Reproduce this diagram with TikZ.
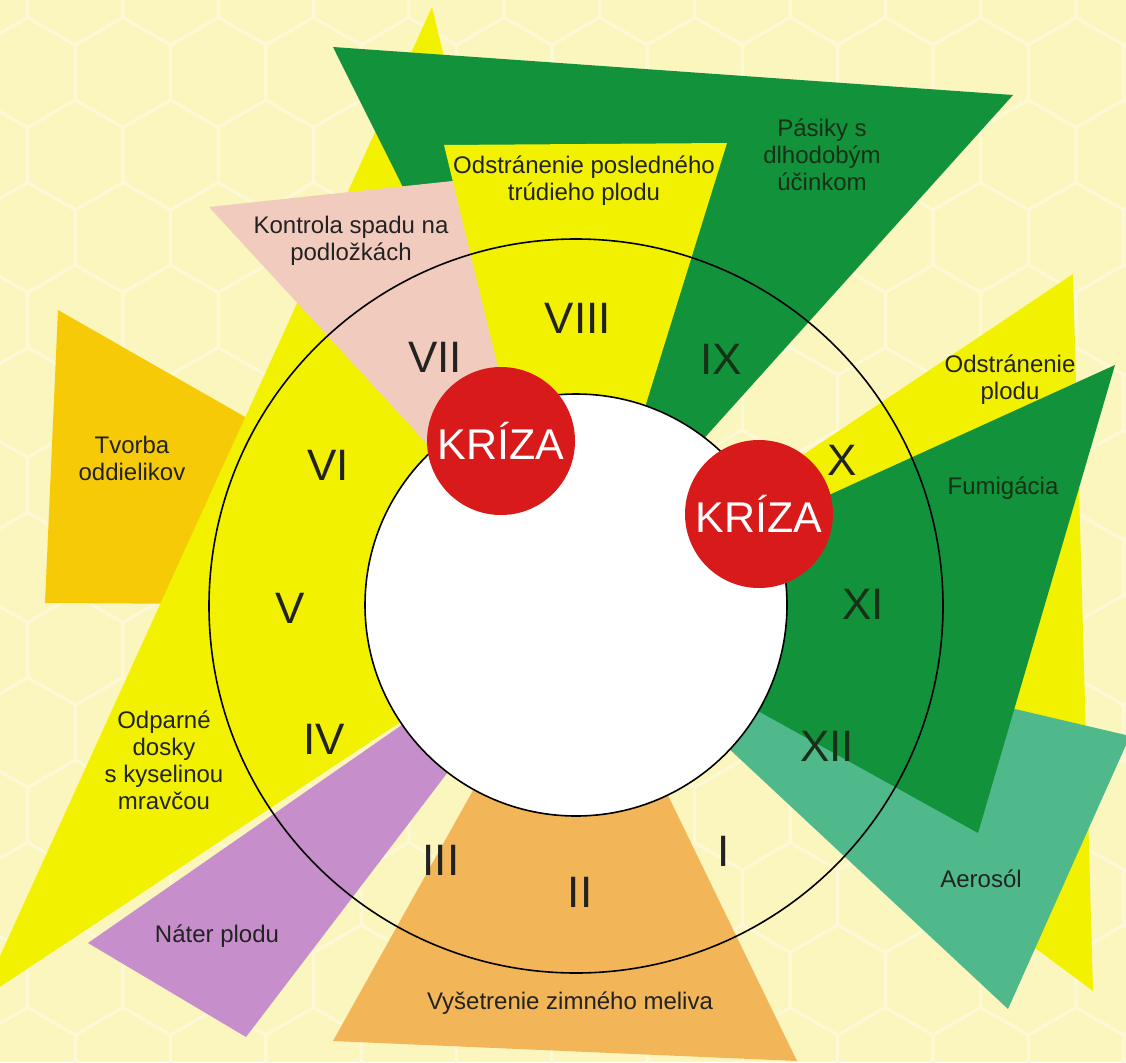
\documentclass[tikz,border=0pt]{standalone}
\usepackage{fontspec}
\setmainfont{Liberation Sans}
\definecolor{bg}{HTML}{FBF5BE}
\definecolor{hexline}{HTML}{FDF9D6}
\definecolor{ylw}{HTML}{F2F200}
\definecolor{grn}{HTML}{12923A}
\definecolor{pnk}{HTML}{F1CBBD}
\definecolor{gold}{HTML}{F7CA08}
\definecolor{orng}{HTML}{F2B557}
\definecolor{purp}{HTML}{C68FCB}
\definecolor{aero}{HTML}{4FB98C}
\definecolor{kred}{HTML}{D81B1A}
\definecolor{txt}{HTML}{222222}
\definecolor{gtxt}{HTML}{173017}
\tikzset{
  lbl/.style={font=\fontsize{24}{27}\selectfont, align=center, inner sep=0pt, text=txt},
  glbl/.style={lbl, text=gtxt},
  num/.style={font=\fontsize{44}{44}\selectfont, inner sep=0pt, text=txt},
  gnum/.style={num, text=gtxt},
  kriza/.style={circle, fill=kred, minimum size=148pt, inner sep=0pt, text=white, font=\fontsize{43}{43}\selectfont},
  ring/.style={draw=black, line width=1.6pt},
  honey/.style={draw=hexline, line width=3pt, line join=round},
}
\begin{document}
\begin{tikzpicture}[x=1pt,y=-1pt]
\useasboundingbox (0,0) rectangle (1126,1062);
\clip (0,0) rectangle (1126,1062);
\fill[bg] (0,0) rectangle (1126,1062);
% honeycomb texture
\foreach \r in {0,...,13} {
  \foreach \c in {0,...,12} {
    \pgfmathsetmacro{\cx}{\c*95.3 + mod(\r,2)*47.65 - 20}
    \pgfmathsetmacro{\cy}{\r*82.5 - 10}
    \draw[honey] (\cx,\cy) +(30:55) -- +(90:55) -- +(150:55) -- +(210:55) -- +(270:55) -- +(330:55) -- cycle;
  }
}
% coloured wedges (back to front)
\fill[gold] (576,606) -- (58,310) -- (45,603) -- cycle;
\fill[ylw]  (576,606) -- (432,7) -- (-20,1000) -- cycle;
\fill[grn]  (591,564) -- (333,47) -- (1013,95) -- cycle;
\fill[pnk]  (576,606) -- (209,207) -- (462,180) -- cycle;
\fill[ylw]  (568,655) -- (444,145) -- (727,143) -- cycle;
\fill[ylw]  (576,607) -- (1073,274) -- (1093,991) -- cycle;
\fill[aero] (576,606) -- (1130,736) -- (1008,1009) -- cycle;
\fill[grn]  (576,610) -- (1115,365) -- (978,833) -- cycle;
\fill[purp] (576,604) -- (88,943) -- (246,1037) -- cycle;
\fill[orng] (576,606) -- (333,1041) -- (797,1061) -- cycle;
% rings
\node[circle, ring, minimum size=734pt, inner sep=0pt] (outer) at (576,606) {};
\node[circle, ring, fill=white, minimum size=422pt, inner sep=0pt] (inner) at (576,605) {};
% crisis circles
\node[kriza] (k1) at (501,441) {KRÍZA};
\node[kriza] (k2) at (759,514) {KRÍZA};
% month numerals
\node[num]  (m1)  at (724,851) {I};
\node[num]  (m2)  at (580,892) {II};
\node[num]  (m3)  at (441,860) {III};
\node[num]  (m4)  at (324,739) {IV};
\node[num]  (m5)  at (290,608) {V};
\node[num]  (m6)  at (328,465) {VI};
\node[num]  (m7)  at (435,357) {VII};
\node[num]  (m8)  at (578,318) {VIII};
\node[gnum] (m9)  at (721,359) {IX};
\node[num]  (m10) at (842,460) {X};
\node[gnum] (m11) at (863,604) {XI};
\node[gnum] (m12) at (827,746) {XII};
% labels
\node[lbl]  (l1) at (584,181) {Odstránenie posledného\\trúdieho plodu};
\node[lbl]  (l2) at (351,241) {Kontrola spadu na\\podložkách};
\node[glbl] (l3) at (822,155) {Pásiky s\\dlhodobým\\účinkom};
\node[lbl]  (l4) at (1010,380) {Odstránenie\\plodu};
\node[glbl] (l5) at (1003,488) {Fumigácia};
\node[lbl]  (l6) at (981,879) {Aerosól};
\node[lbl]  (l7) at (570,1003) {Vyšetrenie zimného meliva};
\node[lbl]  (l8) at (217,936) {Náter plodu};
\node[lbl]  (l9) at (164,760) {Odparné\\dosky\\s kyselinou\\mravčou};
\node[lbl]  (l10) at (132,458) {Tvorba\\oddielikov};
\end{tikzpicture}
\end{document}
